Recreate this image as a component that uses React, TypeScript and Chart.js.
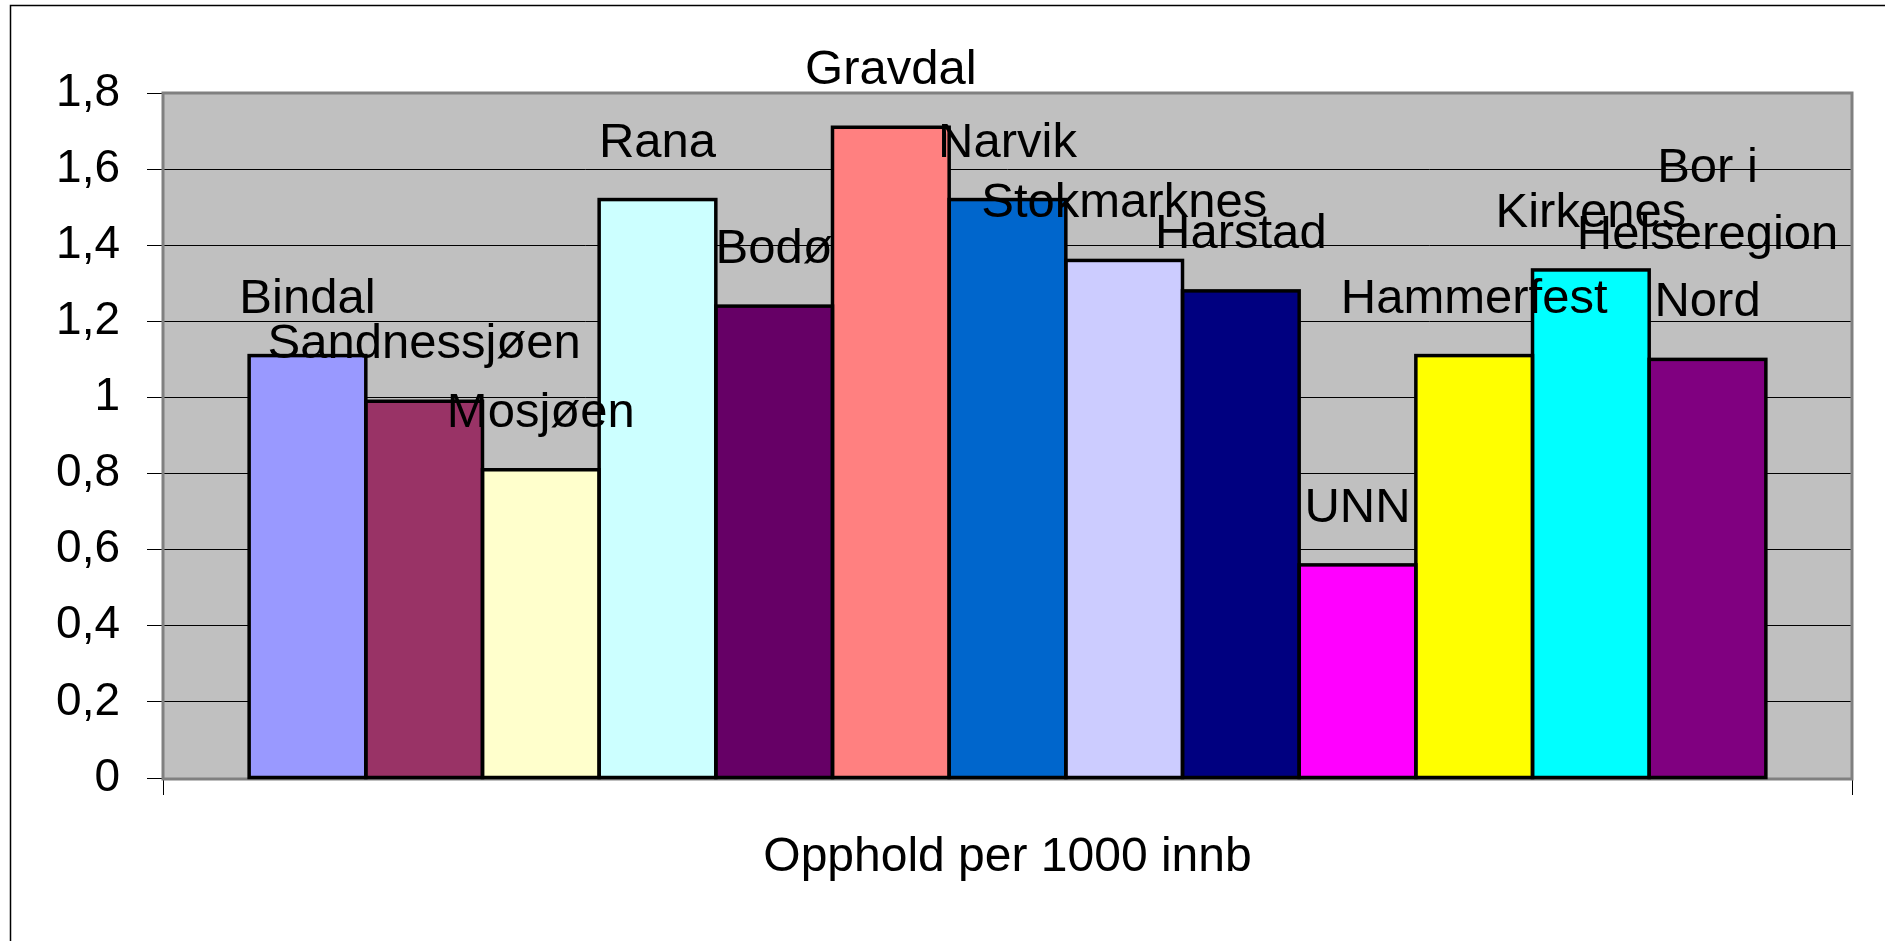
import React, { useEffect, useRef } from 'react';
import { Chart, registerables } from 'chart.js';

Chart.register(...registerables);

const FONT = "'Liberation Sans', Arial, sans-serif";

const categories = ['Opphold per 1000 innb'];

const hospitalLabelLines: string[][] = [
  ['Bindal'],
  ['Sandnessjøen'],
  ['Mosjøen'],
  ['Rana'],
  ['Bodø'],
  ['Gravdal'],
  ['Narvik'],
  ['Stokmarknes'],
  ['Harstad'],
  ['UNN'],
  ['Hammerfest'],
  ['Kirkenes'],
  ['Bor i', 'Helseregion', 'Nord'],
];

const hospitals = hospitalLabelLines.map((l) => l.join(' '));

const values = [1.11, 0.99, 0.81, 1.52, 1.24, 1.71, 1.52, 1.36, 1.28, 0.56, 1.11, 1.335, 1.1];

const barColors = [
  '#9999FF',
  '#993366',
  '#FFFFCC',
  '#CCFFFF',
  '#660066',
  '#FF8080',
  '#0066CC',
  '#CCCCFF',
  '#000080',
  '#FF00FF',
  '#FFFF00',
  '#00FFFF',
  '#800080',
];

const yMin = 0;
const yMax = 1.8;
const yStep = 0.2;

const W = 1885;
const H = 941;

const framePlugin = {
  id: 'framePlugin',
  beforeDraw(chart: any) {
    const { ctx, chartArea } = chart;
    ctx.save();
    ctx.fillStyle = '#FFFFFF';
    ctx.fillRect(0, 0, chart.width, chart.height);
    ctx.strokeStyle = '#000000';
    ctx.lineWidth = 1.5;
    ctx.strokeRect(10.5, 5.5, chart.width + 100, chart.height + 100);
    ctx.fillStyle = '#C0C0C0';
    ctx.fillRect(chartArea.left, chartArea.top, chartArea.right - chartArea.left, chartArea.bottom - chartArea.top);
    ctx.restore();
  },
  beforeDatasetsDraw(chart: any) {
    const { ctx, chartArea } = chart;
    ctx.save();
    ctx.strokeStyle = '#808080';
    ctx.lineWidth = 3;
    ctx.strokeRect(chartArea.left, chartArea.top, chartArea.right - chartArea.left, chartArea.bottom - chartArea.top + 1);
    ctx.restore();
  },
  afterDatasetsDraw(chart: any) {
    const { ctx } = chart;
    ctx.save();
    // bar outlines, centred on the bar edges (shared between neighbours)
    ctx.strokeStyle = '#000000';
    ctx.lineWidth = 3.5;
    ctx.lineJoin = 'miter';
    chart.data.datasets.forEach((_ds: any, i: number) => {
      const el: any = chart.getDatasetMeta(i).data[0];
      if (!el) return;
      const p = el.getProps(['x', 'y', 'base', 'width'], true);
      ctx.strokeRect(p.x - p.width / 2, p.y, p.width, p.base - p.y);
    });
    // labels above the bars
    ctx.font = `49px ${FONT}`;
    ctx.fillStyle = '#000000';
    ctx.textAlign = 'center';
    ctx.textBaseline = 'alphabetic';
    chart.data.datasets.forEach((_ds: any, i: number) => {
      const el = chart.getDatasetMeta(i).data[0];
      if (!el) return;
      const lines = hospitalLabelLines[i];
      lines.forEach((ln, k) => {
        ctx.fillText(ln, el.x, el.y - 43 - (lines.length - 1 - k) * 67);
      });
    });
    ctx.restore();
  },
};

export default function App() {
  const canvasRef = useRef<HTMLCanvasElement | null>(null);

  useEffect(() => {
    if (!canvasRef.current) return;
    const chart = new Chart(canvasRef.current, {
      type: 'bar',
      data: {
        labels: categories,
        datasets: hospitals.map((name, i) => ({
          label: name,
          data: [values[i]],
          backgroundColor: barColors[i],
          borderWidth: 0,
          inflateAmount: 0,
          barPercentage: 1,
          categoryPercentage: 0.898,
        })),
      },
      options: {
        responsive: false,
        animation: false,
        layout: { padding: { top: 93, right: 33, left: 0, bottom: 0 } },
        plugins: {
          legend: { display: false },
          tooltip: { enabled: false },
        },
        scales: {
          x: {
            offset: true,
            grid: {
              display: true,
              drawOnChartArea: false,
              drawTicks: true,
              tickLength: 17,
              color: '#000000',
              offset: true,
            },
            border: { display: false },
            ticks: {
              font: { family: FONT, size: 48 },
              color: '#000000',
              padding: 34,
              maxRotation: 0,
            },
            afterFit: (s: any) => {
              s.height = 163;
            },
          },
          y: {
            min: yMin,
            max: yMax,
            ticks: {
              stepSize: yStep,
              font: { family: FONT, size: 46 },
              color: '#000000',
              padding: 27,
              callback: (v: any) => String(Math.round(Number(v) * 10) / 10).replace('.', ','),
            },
            grid: { color: '#000000', lineWidth: 1, tickLength: 16 },
            border: { display: false },
            afterFit: (s: any) => {
              s.width = 163;
            },
          },
        },
      },
      plugins: [framePlugin],
    });
    return () => chart.destroy();
  }, []);

  return (
    <canvas
      ref={canvasRef}
      width={W}
      height={H}
      style={{ position: 'fixed', left: 0, top: 0, width: W, height: H, display: 'block' }}
    />
  );
}
